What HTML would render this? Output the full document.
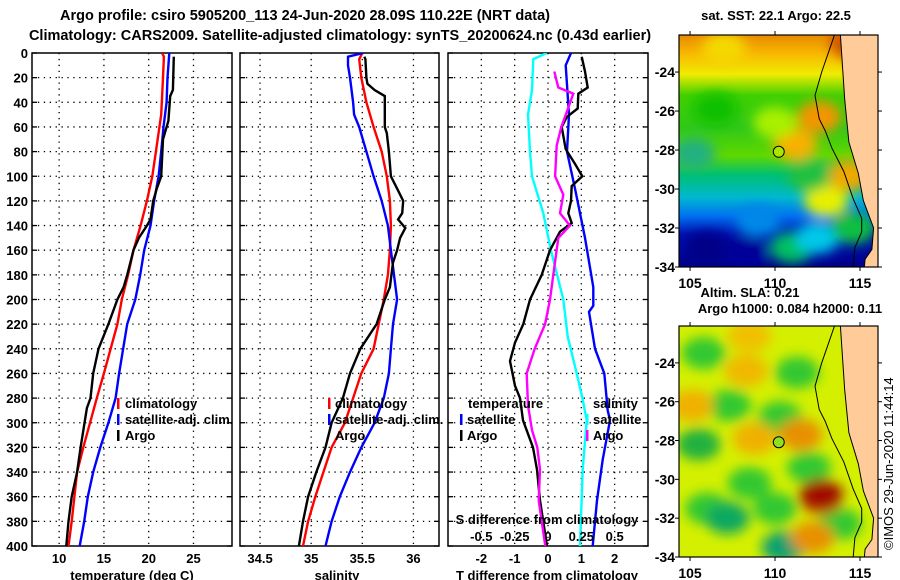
<!DOCTYPE html>
<html><head><meta charset="utf-8"><style>
html,body{margin:0;padding:0;background:#fff;}
svg{display:block;font-family:"Liberation Sans",Arial,sans-serif;font-weight:bold;}
</style></head><body>
<svg id="root" width="900" height="580" viewBox="0 0 900 580" xmlns="http://www.w3.org/2000/svg">
<defs>
<filter id="blur" x="-50%" y="-50%" width="200%" height="200%"><feGaussianBlur stdDeviation="6"/></filter>
<filter id="blur2" x="-50%" y="-50%" width="200%" height="200%"><feGaussianBlur stdDeviation="4"/></filter>
<clipPath id="clipSST"><rect x="679" y="35" width="199" height="232"/></clipPath>
<clipPath id="clipSLA"><rect x="679" y="326" width="199" height="231"/></clipPath>
<clipPath id="clipP1"><rect x="32" y="53" width="200" height="493"/></clipPath>
<clipPath id="clipP2"><rect x="240" y="53" width="199" height="493"/></clipPath>
<clipPath id="clipP3"><rect x="448" y="53" width="200" height="493"/></clipPath>
</defs>
<text x="305" y="20" font-size="14.5" text-anchor="middle">Argo profile: csiro 5905200_113 24-Jun-2020 28.09S 110.22E (NRT data)</text>
<text x="340" y="40" font-size="14.5" text-anchor="middle">Climatology: CARS2009. Satellite-adjusted climatology: synTS_20200624.nc (0.43d earlier)</text>
<g id="panels"></g>
<g id="maps"></g>
<text transform="translate(893,550) rotate(-90)" font-size="13" font-weight="normal">©IMOS 29-Jun-2020 11:44:14</text>
</svg>
<script>
// ---------- profile data ----------
const depthTicks = [0,20,40,60,80,100,120,140,160,180,200,220,240,260,280,300,320,340,360,380,400];
const tempTicks = [10,15,20,25];
const salTicks = [34.5,35,35.5,36];
const salTickLabels = ["34.5","35","35.5","36"];
const tdiffTicks = [-2,-1,0,1,2];
const sdiffTicks = [-0.5,-0.25,0,0.25,0.5];
const sdiffTickLabels = ["-0.5","-0.25","0","0.25","0.5"];

const climTempDepth = [0,3,20,50,80,100,120,140,160,180,200,220,260,280,320,340,380,400];
const climTempValue = [21.5,21.7,21.6,21.4,20.8,20.4,19.8,19.1,18.3,17.7,17.0,16.5,15.0,14.2,12.7,12.0,11.4,11.05];
const satTempDepth = [0,20,40,60,80,100,120,140,160,180,200,220,260,280,300,320,340,360,380,400];
const satTempValue = [22.3,22.1,22.0,21.65,21.4,21.1,20.6,20.2,19.5,19.05,18.5,17.6,16.7,16.3,15.5,14.6,13.8,13.2,12.8,12.3];
const argoTempDepth = [3,30,35,55,70,100,110,120,135,140,150,160,180,190,200,220,240,260,280,288,320,340,360,380,400];
const argoTempValue = [22.8,22.7,22.4,22.2,21.6,21.4,20.9,20.5,20.2,19.8,18.9,18.3,17.6,17.2,16.5,15.5,14.4,13.8,13.5,13.1,12.4,12.0,11.4,11.05,10.8];

const climSalDepth = [0,5,20,40,60,80,100,120,140,160,180,200,220,240,260,280,300,320,340,360,380,400];
const climSalValue = [35.50,35.47,35.49,35.54,35.61,35.69,35.74,35.77,35.78,35.77,35.75,35.71,35.66,35.61,35.49,35.41,35.33,35.20,35.12,35.04,34.97,34.92];
const satSalDepth = [0,3,10,20,40,50,60,80,100,120,140,160,180,200,220,240,260,280,300,320,340,360,380,400];
const satSalValue = [35.51,35.36,35.36,35.38,35.41,35.42,35.47,35.54,35.61,35.69,35.75,35.78,35.81,35.84,35.80,35.78,35.76,35.71,35.62,35.49,35.38,35.28,35.20,35.14];
const argoSalDepth = [3,5,20,25,30,35,60,65,80,100,110,120,130,135,142,150,160,170,190,200,220,240,260,280,300,320,340,360,380,400];
const argoSalValue = [35.52,35.53,35.54,35.55,35.62,35.72,35.72,35.74,35.76,35.78,35.84,35.90,35.89,35.85,35.92,35.87,35.84,35.80,35.77,35.72,35.64,35.48,35.38,35.31,35.20,35.14,35.05,34.97,34.92,34.88];

const argoTdiffDepth = [3,15,28,33,45,52,60,78,90,100,108,120,130,138,145,160,180,200,220,235,250,270,280,298,320,338,363,400];
const argoTdiffValue = [1.01,1.11,1.19,0.91,0.89,0.56,0.41,0.53,0.81,1.03,0.71,0.69,0.61,0.71,0.36,0.06,-0.19,-0.54,-0.74,-0.99,-1.14,-0.99,-0.84,-0.75,-0.45,-0.33,-0.24,-0.03];
const satTdiffDepth = [0,10,50,80,110,150,190,205,210,240,260,290,298,330,363,400];
const satTdiffValue = [0.69,0.53,0.63,0.57,0.81,1.11,1.36,1.36,1.23,1.41,1.69,1.79,1.86,1.64,1.47,1.34];
const argoSdiffDepth = [15,28,33,45,60,75,100,115,130,140,150,180,200,220,240,260,286,306,320,338,363,400];
const argoSdiffValue = [0.047,0.077,0.19,0.15,0.10,0.065,0.053,0.115,0.09,0.165,0.077,0.04,0.015,-0.022,-0.10,-0.16,-0.15,-0.12,-0.08,-0.06,-0.07,-0.02];
const satSdiffDepth = [0,5,30,50,80,100,130,160,200,230,260,280,298,338,400];
const satSdiffValue = [-0.01,-0.11,-0.12,-0.15,-0.135,-0.12,-0.035,0.022,0.115,0.148,0.215,0.258,0.29,0.26,0.24];

// ---------- map data ----------
const lonTicks = [105,110,115];
const latTicks = [-24,-26,-28,-30,-32,-34];
const argoLon = 110.22, argoLat = -28.09;
const coastLon = [113.85,114.1,114.35,114.9,115.2,115.8,115.7,115.3,115.25];
const coastLat = [-22.1,-25.4,-27.6,-29.2,-30.6,-32.0,-33.1,-33.6,-34.1];
const shelfLon = [113.5,112.75,112.35,112.6,112.95,113.35,114.05,114.6,115.1,115.1,114.7,114.6];
const shelfLat = [-22.1,-24.0,-25.2,-26.4,-27.0,-27.9,-29.1,-30.5,-31.5,-32.2,-33.0,-34.0];
const sstBlobLon = [114.5,107.0,112.6,111.2,106.5,110.0,113.0,114.3,111.0,109.0,106.0,112.5,114.6,112.0,105.2,108.3];
const sstBlobLat = [-22.5,-22.8,-26.3,-27.7,-25.9,-26.6,-30.6,-29.3,-33.0,-31.6,-33.0,-32.5,-32.0,-29.3,-28.2,-33.2];
const sstBlobColor = ["#cc5200","#f4d800","#f49400","#f8b000","#10c000","#a8f000","#e8f000","#f0a800","#00c060","#0088e8","#000088","#00c8e8","#10c040","#20c040","#20b080","#000099"];
const slaBlobLon = [105.8,111.3,107.3,110.3,105.5,112.0,106.0,107.2,110.0,110.5,113.8,108.5,108.3,105.1,108.8,111.5,112.7,112.2,108.5,112.7];
const slaBlobLat = [-23.5,-24.5,-26.2,-26.8,-28.2,-29.4,-31.5,-32.0,-31.5,-33.5,-32.3,-30.2,-24.4,-26.2,-27.9,-27.7,-31.0,-33.0,-22.6,-30.8];
const slaBlobColor = ["#30c830","#30c830","#30c830","#30c830","#20b040","#30c830","#30c830","#10a860","#30c830","#10a070","#30c830","#30c830","#f0b800","#f0b000","#f0b000","#e89000","#e06000","#e89000","#f0c000","#a01000"];

const NS="http://www.w3.org/2000/svg";
function mk(tag, attrs, parent){const e=document.createElementNS(NS,tag);for(const k in attrs)e.setAttribute(k,attrs[k]);parent.appendChild(e);return e;}
const panelsG=document.getElementById('panels');
const mapsG=document.getElementById('maps');
const Y0=53, Y1=546;
function yDepth(d){return Y0+d*(Y1-Y0)/400;}

function drawPanel(name,x0,x1,dmin,dmax,xticks,clip){
  const g=mk('g',{},panelsG);
  
  
  const sx=v=>x0+(v-dmin)*(x1-x0)/(dmax-dmin);
  depthTicks.forEach(d=>{
    if(d>0&&d<400){const l=mk('line',{x1:x0,x2:x1,y1:yDepth(d),y2:yDepth(d),stroke:'#000','stroke-width':1.3,'stroke-dasharray':'1.3,4.6'},g);
    
    }
    mk('line',{x1:x0,x2:x0+5,y1:yDepth(d),y2:yDepth(d),stroke:'#000','stroke-width':1.3},g);
    mk('line',{x1:x1-5,x2:x1,y1:yDepth(d),y2:yDepth(d),stroke:'#000','stroke-width':1.3},g);
  });
  xticks.forEach(v=>{
    const l=mk('line',{x1:sx(v),x2:sx(v),y1:Y0,y2:Y1,stroke:'#000','stroke-width':1.3,'stroke-dasharray':'1.3,4.6'},g);
    
    
  });
  const fr=mk('rect',{x:x0,y:Y0,width:x1-x0,height:Y1-Y0,fill:'none',stroke:'#000','stroke-width':1.5},g);
  
  
  return {g,sx,clip};
}
function drawLine(p,depths,vals,color,name,conv){
  const pts=depths.map((d,i)=>p.sx(conv?conv(vals[i]):vals[i]).toFixed(1)+','+yDepth(d).toFixed(1)).join(' ');
  const l=mk('polyline',{points:pts,fill:'none',stroke:color,'stroke-width':2.4,'stroke-linejoin':'miter','clip-path':'url(#'+p.clip+')'},p.g);
  
  
}
function txt(s,x,y,anchor,parent,name,size){
  const t=mk('text',{x:x,y:y,'font-size':size||13,'text-anchor':anchor||'start'},parent);
  t.textContent=s;
  
  
  return t;
}
function legendMark(x,y,color,parent){
  const r=mk('rect',{x:x,y:y-10,width:2.5,height:11,fill:color},parent);
  
  
}

// depth labels
depthTicks.forEach(d=>{txt(String(d),28,yDepth(d)+5,'end',panelsG,'depth-tick-label');});

// Panel 1: temperature
const p1=drawPanel('temperature-panel',32,232,6.97,29.3,tempTicks,'clipP1');
drawLine(p1,climTempDepth,climTempValue,'#ff0000','climatology-temperature-line');
drawLine(p1,satTempDepth,satTempValue,'#0000ff','satellite-temperature-line');
drawLine(p1,argoTempDepth,argoTempValue,'#000000','argo-temperature-line');
tempTicks.forEach(v=>txt(String(v),p1.sx(v),563,'middle',p1.g,'temperature-tick-label'));
txt('temperature (deg C)',132,580,'middle',p1.g,'temperature-axis-title');
legendMark(117,408,'#ff0000',p1.g);txt('climatology',125,408,'start',p1.g,'legend-climatology');
legendMark(117,424,'#0000ff',p1.g);txt('satellite-adj. clim.',125,424,'start',p1.g,'legend-satellite');
legendMark(117,440,'#000000',p1.g);txt('Argo',125,440,'start',p1.g,'legend-argo');

// Panel 2: salinity
const p2=drawPanel('salinity-panel',240,439,34.304,36.25,salTicks,'clipP2');
drawLine(p2,climSalDepth,climSalValue,'#ff0000','climatology-salinity-line');
drawLine(p2,satSalDepth,satSalValue,'#0000ff','satellite-salinity-line');
drawLine(p2,argoSalDepth,argoSalValue,'#000000','argo-salinity-line');
salTicks.forEach((v,i)=>txt(salTickLabels[i],p2.sx(v),563,'middle',p2.g,'salinity-tick-label'));
txt('salinity',337,580,'middle',p2.g,'salinity-axis-title');
legendMark(328,408,'#ff0000',p2.g);txt('climatology',335,408,'start',p2.g,'legend-climatology');
legendMark(328,424,'#0000ff',p2.g);txt('satellite-adj. clim.',335,424,'start',p2.g,'legend-satellite');
txt('Argo',335,440,'start',p2.g,'legend-argo');

// Panel 3: differences
const p3=drawPanel('difference-panel',448,648,-3,3,tdiffTicks,'clipP3');
const s2t=s=>s*4;
drawLine(p3,satSdiffDepth,satSdiffValue,'#00ffff','satellite-salinity-difference-line',s2t);
drawLine(p3,satTdiffDepth,satTdiffValue,'#0000ff','satellite-temperature-difference-line');
drawLine(p3,argoTdiffDepth,argoTdiffValue,'#000000','argo-temperature-difference-line');
drawLine(p3,argoSdiffDepth,argoSdiffValue,'#ff00ff','argo-salinity-difference-line',s2t);
tdiffTicks.forEach(v=>txt(String(v),p3.sx(v),563,'middle',p3.g,'tdiff-tick-label'));
sdiffTicks.forEach((v,i)=>txt(sdiffTickLabels[i],p3.sx(s2t(v)),541,'middle',p3.g,'sdiff-tick-label'));
txt('S difference from climatology',547,524,'middle',p3.g,'sdiff-axis-title');
txt('T difference from climatology',547,580,'middle',p3.g,'tdiff-axis-title');
txt('temperature',468,408,'start',p3.g,'legend-temperature-heading');
legendMark(460,424,'#0000ff',p3.g);txt('satellite',467,424,'start',p3.g,'legend-temp-satellite');
legendMark(460,440,'#000000',p3.g);txt('Argo',467,440,'start',p3.g,'legend-temp-argo');
txt('salinity',593,408,'start',p3.g,'legend-salinity-heading');
legendMark(586,424,'#00ffff',p3.g);txt('satellite',593,424,'start',p3.g,'legend-sal-satellite');
legendMark(586,440,'#ff00ff',p3.g);txt('Argo',593,440,'start',p3.g,'legend-sal-argo');

// ---------- maps ----------
function drawMap(name,top,bottom,bg,blobLon,blobLat,blobColor,clip,dotColor){
  const g=mk('g',{},mapsG);
  
  
  const L=679,R=878,lon0=104.35,lon1=116.06,lat0=-22.1,lat1=-34.0;
  const px=lon=>L+(lon-lon0)*(R-L)/(lon1-lon0);
  const py=lat=>top+(lat-lat0)*(bottom-top)/(lat1-lat0);
  const inner=mk('g',{'clip-path':'url(#'+clip+')'},g);
  if(Array.isArray(bg)){
    const gid=clip+'grad';
    const lg=mk('linearGradient',{id:gid,x1:0,y1:0,x2:0,y2:1},document.querySelector('defs'));
    bg.forEach(s=>mk('stop',{offset:s[0],'stop-color':s[1]},lg));
    mk('rect',{x:L,y:top,width:R-L,height:bottom-top,fill:'url(#'+gid+')'},inner);
  } else mk('rect',{x:L,y:top,width:R-L,height:bottom-top,fill:bg},inner);
  const bl=mk('g',{filter:'url(#blur)'},inner);
  blobLon.forEach((lon,i)=>{
    const e=mk('ellipse',{cx:px(lon),cy:py(blobLat[i]),rx:22,ry:16,fill:blobColor[i]},bl);
    
    
  });
  // land
  let d='M'+px(coastLon[0])+','+(top-2);
  coastLon.forEach((lon,i)=>{d+=' L'+px(lon).toFixed(1)+','+py(coastLat[i]).toFixed(1);});
  d+=' L'+(R+2)+','+(bottom+2)+' L'+(R+2)+','+(top-2)+' Z';
  const land=mk('path',{d:d,fill:'#ffcc99',stroke:'#000','stroke-width':1},inner);
  
  
  const shelf=mk('polyline',{points:shelfLon.map((lon,i)=>px(lon).toFixed(1)+','+py(shelfLat[i]).toFixed(1)).join(' '),fill:'none',stroke:'#000','stroke-width':1},inner);
  
  
  const dot=mk('circle',{cx:px(argoLon),cy:py(argoLat),r:5.5,fill:dotColor,stroke:'#000','stroke-width':1},g);
  
  
  const fr=mk('rect',{x:L,y:top,width:R-L,height:bottom-top,fill:'none',stroke:'#000','stroke-width':1.2},g);
  
  
  lonTicks.forEach(lon=>{
    mk('line',{x1:px(lon),x2:px(lon),y1:top-4,y2:top,stroke:'#000'},g);
    mk('line',{x1:px(lon),x2:px(lon),y1:bottom,y2:bottom+4,stroke:'#000'},g);
    txt(String(lon),px(lon),bottom+21,'middle',g,'longitude-tick-label',14);
  });
  latTicks.forEach(lat=>{
    mk('line',{x1:L-4,x2:L,y1:py(lat),y2:py(lat),stroke:'#000'},g);
    mk('line',{x1:R,x2:R+4,y1:py(lat),y2:py(lat),stroke:'#000'},g);
    txt(String(lat),L-4,py(lat)+5,'end',g,'latitude-tick-label',14);
  });
  return g;
}
drawMap('sst-map',35,267,[[0,'#e88a00'],[0.08,'#f8b800'],[0.17,'#f0ec00'],[0.26,'#40d000'],[0.4,'#30c818'],[0.52,'#60d800'],[0.6,'#00c070'],[0.7,'#00b8d0'],[0.78,'#0070f0'],[0.86,'#0010b0'],[1,'#000088']],sstBlobLon,sstBlobLat,sstBlobColor,'clipSST','#a8e800');
drawMap('sla-map',326,557,'#d4f000',slaBlobLon,slaBlobLat,slaBlobColor,'clipSLA','#90e020');
txt('sat. SST: 22.1 Argo: 22.5',776,20,'middle',mapsG,'sst-map-title');
txt('Altim. SLA: 0.21',750,297,'middle',mapsG,'sla-map-title');
txt('Argo h1000: 0.084 h2000: 0.11',790,313,'middle',mapsG,'sla-map-subtitle');
</script>
</body></html>
